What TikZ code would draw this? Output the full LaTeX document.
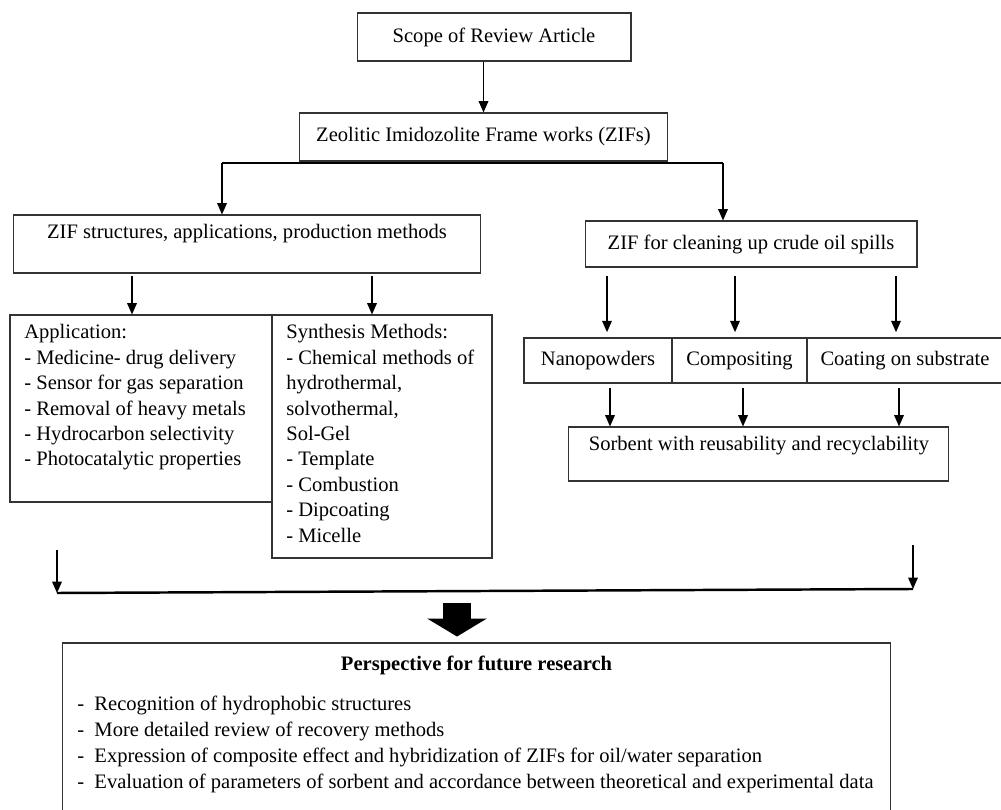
\documentclass[tikz,border=0pt]{standalone}
\usepackage{fontspec}
\setmainfont{Liberation Serif}
\usetikzlibrary{arrows.meta}
\begin{document}
\begin{tikzpicture}[x=0.02cm,y=-0.02cm]
\tikzstyle{box}=[rectangle,draw=black!80,line width=0.6pt,inner sep=0pt]
\tikzstyle{txt}=[inner sep=0pt,font=\fontsize{11.7}{14.5}\selectfont]
\tikzstyle{arr}=[line width=0.8pt,-{Triangle[length=6.5pt,width=5.5pt]}]
\useasboundingbox (0,0) rectangle (1001,810);
\node[box,txt,minimum width=5.48cm,minimum height=0.96cm] (scope) at (494,37) {Scope of Review Article};
\node[box,txt,minimum width=7.38cm,minimum height=0.96cm] (zif) at (483.5,137) {Zeolitic Imidozolite Frame works (ZIFs)};
\node[box,minimum width=9.36cm,minimum height=1.16cm] (struct) at (247,244) {};
\node[txt,anchor=base] (structtxt) at (247,239) {ZIF structures, applications, production methods};
\node[box,txt,minimum width=6.64cm,minimum height=0.92cm] (oil) at (751,244) {ZIF for cleaning up crude oil spills};
\node[box,minimum width=5.24cm,minimum height=3.74cm] (app) at (141,408.5) {};
\node[box,minimum width=4.4cm,minimum height=4.86cm] (syn) at (382,436.5) {};
\node[txt,anchor=north west,align=left] (apptxt) at (24,324) {Application:\\- Medicine- drug delivery\\- Sensor for gas separation\\- Removal of heavy metals\\- Hydrocarbon selectivity\\- Photocatalytic properties};
\node[txt,anchor=north west,align=left] (syntxt) at (286,324) {Synthesis Methods:\\- Chemical methods of\\hydrothermal,\\solvothermal,\\Sol-Gel\\- Template\\- Combustion\\- Dipcoating\\- Micelle};
\node[box,txt,minimum width=2.96cm,minimum height=0.9cm] (nano) at (598,360.5) {Nanopowders};
\node[box,txt,minimum width=2.7cm,minimum height=0.9cm] (comp) at (739.5,360.5) {Compositing};
\node[box,txt,minimum width=3.92cm,minimum height=0.9cm] (coat) at (905,360.5) {Coating on substrate};
\node[box,minimum width=7.62cm,minimum height=1.08cm] (sorb) at (758.5,454) {};
\node[txt,anchor=base] (sorbtxt) at (759,451) {Sorbent with reusability and recyclability};
\node[box,minimum width=16.58cm,minimum height=3.44cm] (persp) at (476.5,729) {};
\node[txt,anchor=base,font=\fontsize{11.7}{14.5}\selectfont\bfseries] (ptitle) at (476.5,670) {Perspective for future research};
\node[txt,anchor=north west,align=left,font=\fontsize{11.7}{14.7}\selectfont] (plist) at (77,696) {-\ \ Recognition of hydrophobic structures\\-\ \ More detailed review of recovery methods\\-\ \ Expression of composite effect and hybridization of ZIFs for oil/water separation\\-\ \ Evaluation of parameters of sorbent and accordance between theoretical and experimental data};
\draw[arr] (scope.south -| zif.north) -- (zif.north);
\coordinate (bl) at (222,163);
\coordinate (br) at (723,163);
\draw[line width=0.8pt] (bl) -- (br);
\draw[arr] (bl) -- (bl |- struct.north);
\draw[arr] (br) -- (br |- oil.north);
\coordinate (s1) at (132,276);
\coordinate (s2) at (372,276);
\draw[arr] (s1) -- (s1 |- app.north);
\draw[arr] (s2) -- (s2 |- syn.north);
\coordinate (o1) at (607,276);
\coordinate (o2) at (735,276);
\coordinate (o3) at (896,276);
\draw[arr,shorten >=3pt] (o1) -- (o1 |- nano.north);
\draw[arr,shorten >=3pt] (o2) -- (o2 |- comp.north);
\draw[arr,shorten >=3pt] (o3) -- (o3 |- coat.north);
\coordinate (n1) at (610,388);
\coordinate (n2) at (743,388);
\coordinate (n3) at (899,388);
\draw[arr] (n1) -- (n1 |- sorb.north);
\draw[arr] (n2) -- (n2 |- sorb.north);
\draw[arr] (n3) -- (n3 |- sorb.north);
\coordinate (l1) at (57,550);
\coordinate (l2) at (57,593);
\coordinate (r1) at (913,545);
\coordinate (r2) at (913,589);
\draw[arr] (l1) -- (l2);
\draw[arr] (r1) -- (r2);
\draw[line width=1.4pt] (l2) -- (r2);
\coordinate (big) at (457,603);
\draw[line width=16.4pt,-{Triangle[length=10.2pt,width=33.5pt]},shorten >=3.4pt] (big) -- (big |- persp.north);
\end{tikzpicture}
\end{document}
